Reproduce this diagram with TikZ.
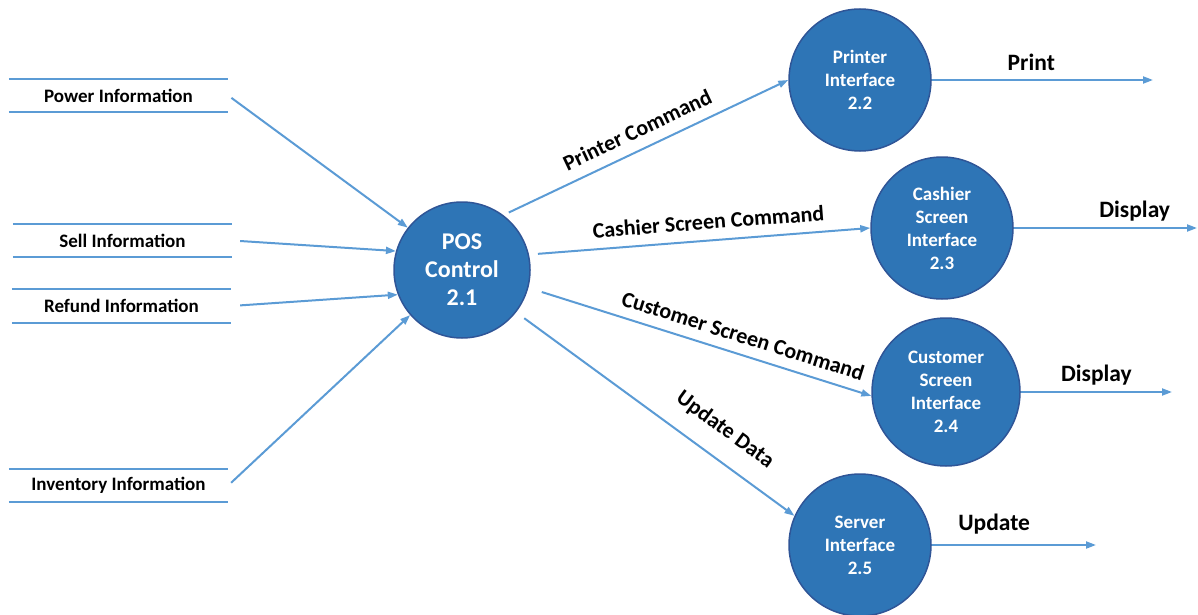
\documentclass[tikz,border=0pt]{standalone}
\usepackage{fontspec}
\setmainfont{Carlito}
\usetikzlibrary{arrows.meta}
\definecolor{bubble}{HTML}{2E75B6}
\definecolor{bubbleedge}{HTML}{2F5597}
\definecolor{flowblue}{HTML}{5B9BD5}

\begin{document}
\begin{tikzpicture}[x=1pt, y=-1pt]
  \tikzstyle{process}=[circle, draw=bubbleedge, line width=1.5pt, fill=bubble, text=white,
    font=\bfseries\fontsize{19}{23}\selectfont, align=center, minimum size=142pt, inner sep=0pt]
  \tikzstyle{store}=[minimum width=219pt, minimum height=33pt, inner sep=0pt,
    font=\bfseries\fontsize{19}{23}\selectfont]
  \tikzstyle{storeline}=[draw=flowblue, line width=2.2pt]
  \tikzstyle{flow}=[draw=flowblue, line width=2pt, -{Triangle[length=10pt,width=7pt]}]
  \tikzstyle{flowlabel}=[font=\bfseries\fontsize{22}{26}\selectfont, sloped, inner sep=2pt]
  \tikzstyle{outlabel}=[font=\bfseries\fontsize{23.5}{28}\selectfont, inner sep=2pt]

  \useasboundingbox (0,0) rectangle (1198,615);

  % processes
  \node[process, minimum size=136pt, font=\bfseries\fontsize{24}{28}\selectfont]
    (pos) at (462,270) {POS\\Control\\2.1};
  \node[process] (printer) at (860,80) {Printer\\Interface\\2.2};
  \node[process] (cashier) at (942,228) {Cashier\\Screen\\Interface\\2.3};
  \node[process, minimum size=148pt] (customer) at (946,392) {Customer\\Screen\\Interface\\2.4};
  \node[process] (server) at (860,545) {Server\\Interface\\2.5};

  % data stores
  \node[store] (power) at (118.5,95.5) {Power Information};
  \node[store] (sell) at (122.5,240.5) {Sell Information};
  \node[store] (refund) at (121.5,306) {Refund Information};
  \node[store] (inventory) at (118.5,485.5) {Inventory Information};
  \foreach \s in {power, sell, refund, inventory}
  {
    \draw[storeline] (\s.north west) -- (\s.north east)
      (\s.south west) -- (\s.south east);
  }

  % free ends
  \coordinate (printout) at (1153,80);
  \coordinate (cashierout) at (1197,228);
  \coordinate (customerout) at (1172,392);
  \coordinate (serverout) at (1096,545);

  % inputs
  \draw[flow, shorten <=4pt] (power.east) -- (pos.142);
  \draw[flow, shorten <=8pt] (sell.east) -- (pos.164);
  \draw[flow, shorten <=9pt] (refund.east) -- (pos.201);
  \draw[flow, shorten <=4pt] (inventory.east) -- (pos.221);

  % commands
  \draw[flow, shorten <=6pt] (pos.53) -- node[flowlabel, above=9pt] {Printer Command} (printer.180);
  \draw[flow, shorten <=9pt] (pos.13) -- node[flowlabel, above=8pt, pos=0.53] {Cashier Screen Command} (cashier.180);
  \draw[flow, shorten <=14pt] (pos.-15) -- node[flowlabel, above=8pt, pos=0.61] {Customer Screen Command} (customer.183);
  \draw[flow, shorten <=10pt] (pos.-38) -- node[flowlabel, above=16pt, pos=0.69] {Update Data} (server.156);

  % outputs
  \draw[flow] (printer.0) -- node[outlabel, above=6pt, pos=0.45] {Print} (printout);
  \draw[flow] (cashier.0) -- node[outlabel, above=4pt, pos=0.66] {Display} (cashierout);
  \draw[flow] (customer.0) -- node[outlabel, above=4pt, pos=0.5] {Display} (customerout);
  \draw[flow] (server.0) -- node[outlabel, above=8pt, pos=0.38] {Update} (serverout);
\end{tikzpicture}
\end{document}
